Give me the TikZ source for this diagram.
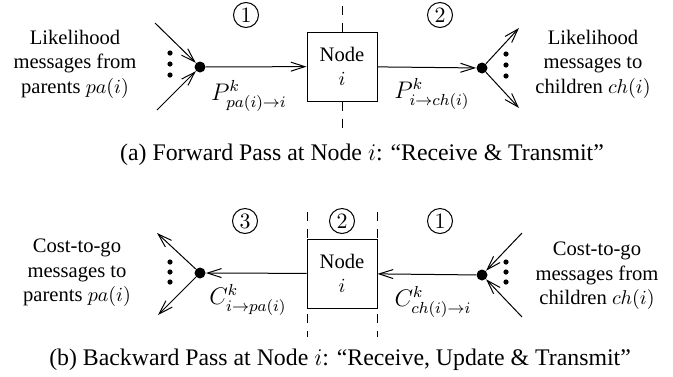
\documentclass[tikz,border=0pt]{standalone}
\usepackage[no-math]{fontspec}
\setmainfont{Liberation Serif}
\usepackage{amsmath}
\usetikzlibrary{positioning, arrows.meta}

\begin{document}
\begin{tikzpicture}[
    x=0.5pt, y=-0.5pt, % one unit per pixel, y pointing down
    every node/.style={font=\fontsize{10.3}{12.3}\selectfont},
    msg/.style={-{Straight Barb[length=7pt, width=4.5pt]}, line width=0.5pt},
    junction/.style={circle, fill, inner sep=0pt, minimum size=5.5pt},
    nodebox/.style={rectangle, draw, line width=0.5pt, fill=white, align=center,
                    minimum width=35pt, minimum height=34.5pt, inner sep=0pt},
    stage/.style={circle, draw, line width=0.5pt, inner sep=0pt, minimum size=12.5pt,
                  font=\fontsize{11}{12}\selectfont},
    divider/.style={dashed, dash pattern=on 4.5pt off 4pt, line width=0.5pt},
    side/.style={align=center, inner sep=0pt},
    msglabel/.style={font=\fontsize{12}{14}\selectfont},
    caption/.style={font=\fontsize{11.9}{14}\selectfont}]
  \useasboundingbox (0,0) rectangle (673,376);

  % ---------- (a) forward pass ----------
  \node (fnode) [nodebox] at (342,66.5) {Node\\$i$};
  \node (fjoinL) [junction] at (200,67) {};
  \node (fjoinR) [junction] at (482,68) {};
  \coordinate (fin1) at (155,23);
  \coordinate (fin2) at (157,110);
  \coordinate (fout1) at (519,28);
  \coordinate (fout2) at (519,108);

  \node (fone) [stage] at (246,15) {$1$};
  \node (ftwo) [stage] at (440,15) {$2$};

  % dashed split through the node
  \draw [divider] (fnode.north) -- (342,0);
  \draw [divider] (fnode.south) -- (342,134);

  % messages in and out
  \draw [msg] (fin1) -- (fjoinL);
  \draw [msg] (fin2) -- (fjoinL);
  \draw [msg] (fjoinL) -- (fnode);
  \draw [msg] (fnode) -- (fjoinR);
  \draw [msg] (fjoinR) -- (fout1);
  \draw [msg] (fjoinR) -- (fout2);
  \foreach \y in {53,64,75} \fill (170,\y) circle (1.3pt);
  \foreach \y in {54,65,76} \fill (506,\y) circle (1.3pt);

  \node (fplab) [msglabel] at (249,96) {$P^k_{pa(i)\rightarrow i}$};
  \node (fclab) [msglabel] at (432,94) {$P^k_{i\rightarrow ch(i)}$};
  \node (fleft) [side] at (75,64) {Likelihood\\messages from\\parents $pa(i)$};
  \node (fright) [side] at (593,64) {Likelihood\\messages to\\children $ch(i)$};

  \node (fcap) [caption] at (362,155) {(a) Forward Pass at Node $i$: ``Receive \& Transmit''};

  % ---------- (b) backward pass ----------
  \draw [divider] (307,212) -- (307,337);
  \draw [divider] (377,212) -- (377,337);
  \node (bnode) [nodebox] at (342,273.5) {Node\\$i$};
  \node (bjoinL) [junction] at (200,273) {};
  \node (bjoinR) [junction] at (482,275) {};
  \coordinate (bout1) at (157,233);
  \coordinate (bout2) at (158,315);
  \coordinate (bin1) at (522,233);
  \coordinate (bin2) at (522,317);

  \node (bthree) [stage] at (245,221) {$3$};
  \node (btwo) [stage] at (342,221) {$2$};
  \node (bone) [stage] at (440,221) {$1$};

  \draw [msg] (bin1) -- (bjoinR);
  \draw [msg] (bin2) -- (bjoinR);
  \draw [msg] (bjoinR) -- (bnode);
  \draw [msg] (bnode) -- (bjoinL);
  \draw [msg] (bjoinL) -- (bout1);
  \draw [msg] (bjoinL) -- (bout2);
  \foreach \y in {262,272,282} \fill (170,\y) circle (1.3pt);
  \foreach \y in {262,272,282} \fill (506,\y) circle (1.3pt);

  \node (bplab) [msglabel] at (248,300) {$C^k_{i\rightarrow pa(i)}$};
  \node (bclab) [msglabel] at (433,302) {$C^k_{ch(i)\rightarrow i}$};
  \node (bleft) [side] at (77,273) {Cost-to-go\\messages to\\parents $pa(i)$};
  \node (bright) [side] at (597,276) {Cost-to-go\\messages from\\children $ch(i)$};

  \node (bcap) [caption] at (340,360) {(b) Backward Pass at Node $i$: ``Receive, Update \& Transmit''};
\end{tikzpicture}
\end{document}
